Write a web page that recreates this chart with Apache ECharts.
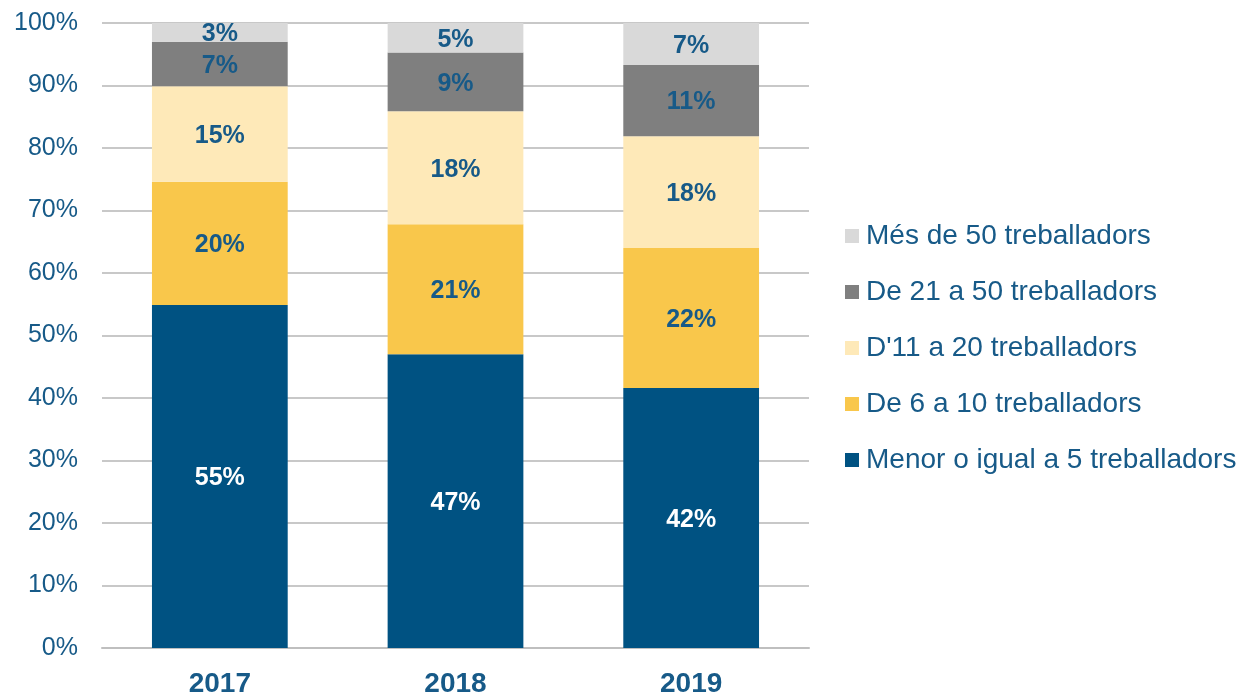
<!DOCTYPE html>
<html>
<head>
<meta charset="utf-8">
<script src="https://cdn.jsdelivr.net/npm/echarts@6/dist/echarts.min.js"></script>
<style>
    html, body { margin: 0; padding: 0; background: #fff; }
    #chart { width: 1239px; height: 694px; }
</style>
</head>
<body>
<div id="chart"></div>
<script>
// anys
const years = ["2017", "2018", "2019"];
// trams d'empresa (de baix a dalt)
const seriesNames = [
    "Menor o igual a 5 treballadors",
    "De 6 a 10 treballadors",
    "D'11 a 20 treballadors",
    "De 21 a 50 treballadors",
    "Més de 50 treballadors",
];
const upTo5 = [54.9, 47.0, 41.6];
const from6to10 = [19.7, 20.8, 22.4];
const from11to20 = [15.3, 18.1, 17.9];
const from21to50 = [7.1, 9.4, 11.4];
const over50 = [3.0, 4.7, 6.7];
const yTicks = [0, 10, 20, 30, 40, 50, 60, 70, 80, 90, 100];

const values = [upTo5, from6to10, from11to20, from21to50, over50];
const colors = ["#005282", "#f9c74b", "#fee9b8", "#7f7f7f", "#d9d9d9"];
const labelColors = ["#ffffff", "#175a88", "#175a88", "#175a88", "#175a88"];
const textBlue = "#175a88";

const chart = echarts.init(document.getElementById("chart"));

const series = seriesNames.map((name, i) => ({
    name: name,
    type: "bar",
    stack: "total",
    barWidth: "57.6%",
    data: values[i],
    itemStyle: { color: colors[i] },
    label: {
        show: true,
        position: "inside",
        color: labelColors[i],
        fontFamily: "Liberation Sans",
        fontWeight: "bold",
        fontSize: 25,
        offset: [0, 2],
        formatter: (p) => Math.round(p.value) + "%",
    },
}));

chart.setOption({
    animation: false,
    grid: { left: 102, right: 430, top: 23, bottom: 46, outerBoundsMode: "none" },
    legend: {
        orient: "vertical",
        left: 845,
        top: 222,
        padding: 0,
        itemWidth: 14,
        itemHeight: 14,
        itemGap: 28,
        icon: "rect",
        data: seriesNames.slice().reverse(),
        textStyle: {
            color: textBlue,
            fontFamily: "Liberation Sans",
            fontSize: 28,
            padding: [0, 0, 0, 2],
        },
    },
    xAxis: {
        type: "category",
        data: years,
        axisLine: { lineStyle: { color: "#bfbfbf", width: 2 } },
        axisTick: { show: false },
        axisLabel: {
            color: textBlue,
            fontFamily: "Liberation Sans",
            fontWeight: "bold",
            fontSize: 28,
            margin: 22,
        },
    },
    yAxis: {
        type: "value",
        min: yTicks[0],
        max: yTicks[yTicks.length - 1],
        interval: 10,
        axisLine: { show: false },
        axisTick: { show: false },
        splitLine: { lineStyle: { color: "#c8c8c8", width: 2 } },
        axisLabel: {
            color: textBlue,
            fontFamily: "Liberation Sans",
            fontSize: 25,
            margin: 24,
            formatter: "{value}%",
        },
    },
    series: series,
});
</script>
</body>
</html>
